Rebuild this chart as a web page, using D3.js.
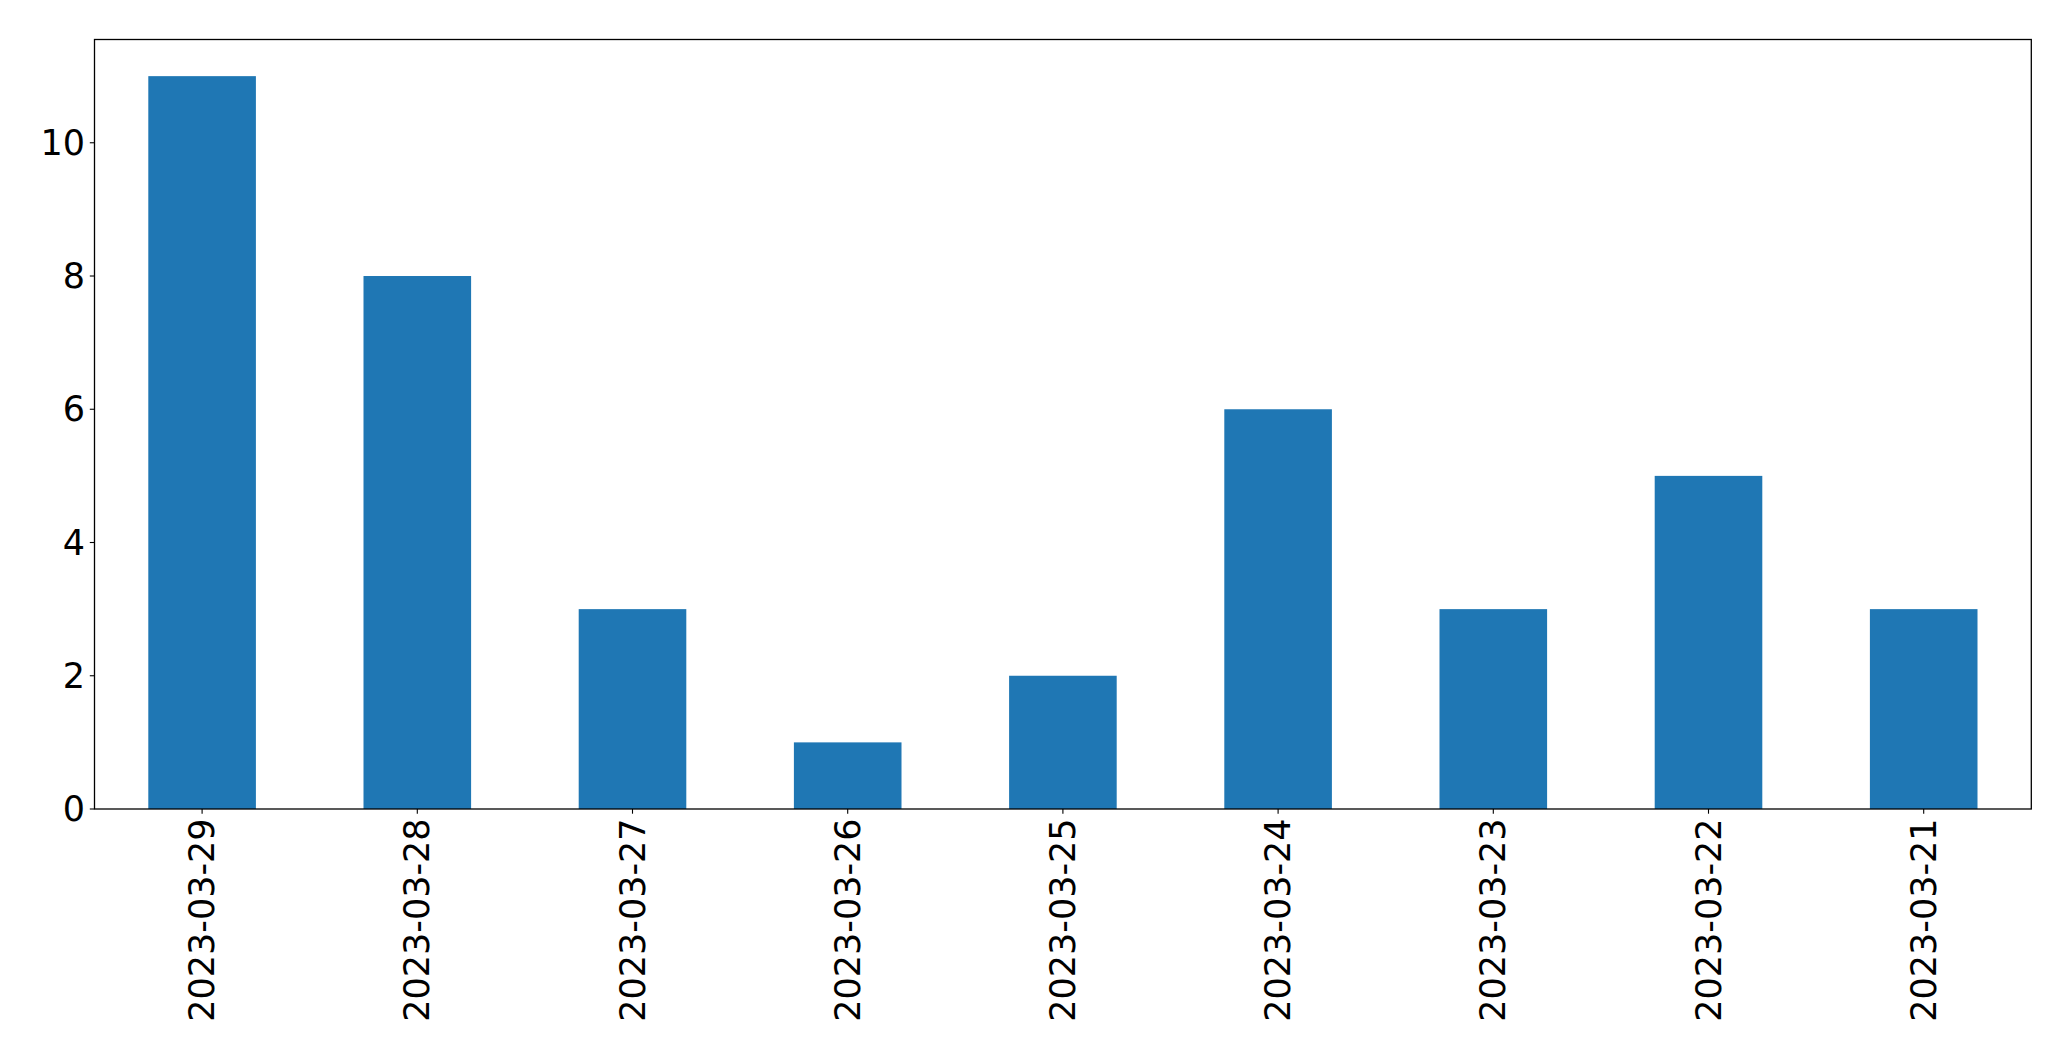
<!DOCTYPE html>
<html><head><meta charset="utf-8">
<script src="https://cdn.jsdelivr.net/npm/d3@7"></script>
<style>body{margin:0;background:#fff}svg{display:block}text{font-family:"DejaVu Sans",sans-serif;fill:#000}</style>
</head><body>
<script>
const categories = ["2023-03-29","2023-03-28","2023-03-27","2023-03-26","2023-03-25","2023-03-24","2023-03-23","2023-03-22","2023-03-21"];
const values = [11, 8, 3, 1, 2, 6, 3, 5, 3];
const yTicks = [0, 2, 4, 6, 8, 10];

const W = 2071, H = 1061;
const L = 94.5, R = 2031.3, T = 39.5, B = 809;
const fs = 35, tickLen = 4.7, pad = 4.7;

const svg = d3.select("body").append("svg").attr("width", W).attr("height", H);
const x = d3.scaleLinear().domain([-0.5, categories.length - 0.5]).range([L, R]);
const y = d3.scaleLinear().domain([0, d3.max(values) * 1.05]).range([B, T]);

svg.append("g").selectAll("rect").data(values).join("rect")
  .attr("x", (d, i) => x(i - 0.25))
  .attr("width", (d, i) => x(i + 0.25) - x(i - 0.25))
  .attr("y", d => y(d))
  .attr("height", d => y(0) - y(d))
  .attr("fill", "#1f77b4");

// y axis
const gy = svg.append("g");
yTicks.forEach(t => {
  gy.append("line").attr("x1", L - tickLen).attr("x2", L).attr("y1", y(t)).attr("y2", y(t))
    .attr("stroke", "#000").attr("stroke-width", 1.1);
  gy.append("text").attr("x", L - tickLen - pad).attr("y", y(t))
    .attr("text-anchor", "end").attr("dominant-baseline", "central")
    .attr("font-size", fs).text(t);
});

// x axis
const gx = svg.append("g");
categories.forEach((c, i) => {
  gx.append("line").attr("x1", x(i)).attr("x2", x(i)).attr("y1", B).attr("y2", B + tickLen)
    .attr("stroke", "#000").attr("stroke-width", 1.1);
  gx.append("text").attr("transform", `translate(${x(i)},${B + tickLen + pad}) rotate(-90)`)
    .attr("text-anchor", "end").attr("dominant-baseline", "central")
    .attr("font-size", fs).text(c);
});

svg.append("rect").attr("x", L).attr("y", T).attr("width", R - L).attr("height", B - T)
  .attr("fill", "none").attr("stroke", "#000").attr("stroke-width", 1.3);
</script>
</body></html>
